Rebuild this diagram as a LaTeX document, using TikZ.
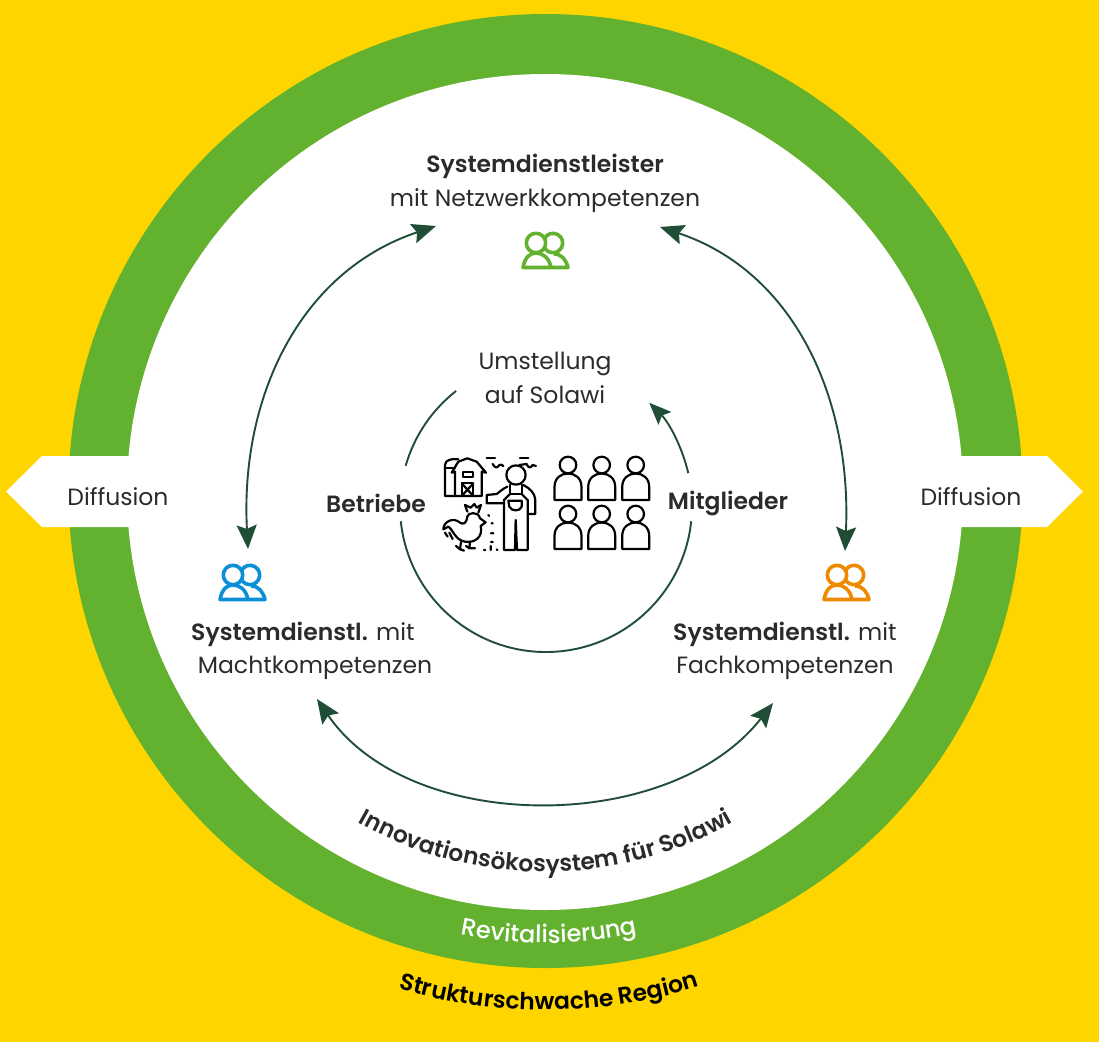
\documentclass[tikz,border=0pt]{standalone}
\usepackage{fontspec}
\setmainfont{Poppins}[BoldFont={Poppins SemiBold}]
\newfontfamily\medfont{Poppins Medium}
\usetikzlibrary{arrows.meta,calc,decorations.text}
\definecolor{bgyellow}{HTML}{FFD500}
\definecolor{ringgreen}{HTML}{62B22F}
\definecolor{arrowgreen}{HTML}{1F4D36}
\definecolor{iconblue}{HTML}{0B8FD6}
\definecolor{iconorange}{HTML}{EF8A00}
\definecolor{txt}{HTML}{2B2B2B}
\tikzset{
  lbl/.style={font=\fontsize{23.5}{27}\selectfont,text=txt,inner sep=0pt,align=center},
  conn/.style={draw=arrowgreen,line width=1.9pt},
  twoway/.style={conn,{Stealth[length=24pt,width=20pt,inset=4pt]}-{Stealth[length=24pt,width=20pt,inset=4pt]}},
  ink/.style={draw=black,line width=2.2pt,line join=round,line cap=round},
  pics/people/.style={code={
    \begin{scope}[draw=#1,line width=3.6pt,line join=round]
      \draw (-9,-6) circle[radius=9.7];
      \draw ($(8,-6)+(151:9.7pt)$) arc[start angle=151,end angle=-151,radius=9.7pt];
      \draw (-22,18.5) .. controls (-20,8) and (-15,4) .. (-9,4) .. controls (-3,4) and (4,8) .. (6,18.5) -- cycle;
      \draw (9,5) .. controls (17,5) and (21,11) .. (23,18.5) -- (6,18.5);
    \end{scope}}},
  pics/person/.style={code={
    \draw[ink] (0,0) circle[radius=8.3];
    \draw[ink] (-13.5,35) -- (-13.5,22) .. controls (-13.5,13) and (-7,8.5) .. (0,8.5) .. controls (7,8.5) and (13.5,13) .. (13.5,22) -- (13.5,35) -- cycle;
  }}
}
\begin{document}
\begin{tikzpicture}[x=1pt,y=-1pt]
\useasboundingbox (0,0) rectangle (1099,1042);
\fill[bgyellow] (0,0) rectangle (1099,1042);
\coordinate (c) at (545.5,491);
\coordinate (ci) at (546,506);
\fill[ringgreen] (c) circle[radius=477pt];
\fill[white] (545,492) circle[radius=418pt];
% diffusion arrows
\fill[white] (140,456) -- (42,456) -- (6,491.5) -- (42,527) -- (140,527) -- cycle;
\fill[white] (950,456) -- (1047,456) -- (1083,491.5) -- (1047,527) -- (950,527) -- cycle;
\node[lbl] (dl) at (118,497) {Diffusion};
\node[lbl] (dr) at (971,497) {Diffusion};
% labels
\node[lbl] (top1) at (545,166) {\textbf{Systemdienstleister}};
\node[lbl] (top2) at (545,200.5) {mit Netzwerkkompetenzen};
\node[lbl] (um1) at (545,364) {Umstellung};
\node[lbl] (um2) at (545,395) {auf Solawi};
\node[lbl] (be) at (376,503) {\textbf{Betriebe}};
\node[lbl] (mi) at (728,503) {\textbf{Mitglieder}};
\node[lbl] (l1) at (303,634) {\textbf{Systemdienstl.} mit};
\node[lbl] (l2) at (315,668) {Machtkompetenzen};
\node[lbl] (r1) at (785,634) {\textbf{Systemdienstl.} mit};
\node[lbl] (r2) at (785,668) {Fachkompetenzen};
% outer connectors
\coordinate (tl) at (436,226);
\coordinate (tr) at (660,227);
\coordinate (lu) at (248,549);
\coordinate (ru) at (845,551);
\coordinate (bl) at (317,699);
\coordinate (br) at (773,703);
\draw[twoway] (tl) .. controls (298,272) and (240,400) .. (lu);
\draw[twoway] (tr) .. controls (795,272) and (852,400) .. (ru);
\draw[twoway] (bl) .. controls (410,835) and (670,835) .. (br);
% inner circle
\draw[conn] ($(ci)+(128:146pt)$) arc[start angle=128,end angle=164,radius=146pt];
\draw[conn] ($(ci)+(186:146pt)$) arc[start angle=186,end angle=354,radius=146pt];
\draw[conn,-{Stealth[length=22pt,width=18pt,inset=4pt]}] ($(ci)+(13:146pt)$) arc[start angle=13,end angle=45,radius=146pt];
% icons
\pic at (545,249) {people=ringgreen};
\pic at (242,581) {people=iconblue};
\pic at (846,581) {people=iconorange};
% persons
\foreach \px in {568,601.7,635.7}{\foreach \py in {465,514}{\pic at (\px,\py) {person};}}
% farm icon (in crop coordinates)
\begin{scope}[shift={(380,340)},x=0.3333pt,y=-0.3333pt]
  % silo and barn
  \draw[ink] (225,468) -- (195,468) -- (195,375) .. controls (195,360) and (215,355) .. (235,358);
  \draw[ink] (195,385) -- (225,385);
  \draw[ink] (225,468) -- (225,395) -- (215,398) -- (235,365) -- (262,355) -- (290,365) -- (318,398) -- (305,395) -- (305,468) -- cycle;
  \draw[ink] (248,395) rectangle (278,412);
  \draw[ink] (245,468) -- (245,430) -- (280,430) -- (280,468);
  \draw[ink] (245,430) -- (280,468) (280,430) -- (245,468);
  % birds
  \draw[ink] (320,354) -- (345,354) (420,354) -- (445,354);
  \draw[ink] (338,372) .. controls (345,385) and (352,385) .. (358,375) .. controls (362,372) and (366,375) .. (370,378);
  \draw[ink] (418,375) -- (440,372) .. controls (445,385) and (452,385) .. (458,375) -- (468,378);
  % farmer
  \draw[ink] (408,405) circle[radius=29];
  \draw[ink] (390,434) -- (390,462) -- (425,462) -- (425,434);
  \draw[ink] (372,480) -- (372,630) -- (405,630) -- (407,540) -- (411,630) -- (443,630) -- (443,480) -- (425,462) (390,462) -- (372,480);
  \draw[ink] (385,482) -- (425,482) -- (425,500) .. controls (420,515) and (395,515) .. (388,500) -- cycle;
  \draw[ink] (382,440) .. controls (370,445) and (360,455) .. (350,462) -- (320,465) -- (320,490) -- (372,490);
  \draw[ink] (430,435) .. controls (450,445) and (465,460) .. (466,480) -- (466,522) -- (443,522);
  % rooster
  \draw[ink] (262,515) -- (255,495) -- (272,503) -- (283,492) -- (290,503) -- (303,495) -- (295,518);
  \draw[ink] (262,530) .. controls (262,518) and (295,512) .. (300,535) -- (317,547) -- (302,558) .. controls (310,590) and (285,610) .. (255,605) .. controls (225,600) and (220,570) .. (205,560) -- (190,568) .. controls (190,545) and (220,530) .. (240,548) .. controls (250,555) and (260,550) .. (262,530);
  \draw[ink] (195,578) -- (203,590) (208,578) -- (218,597);
  \draw[ink] (243,606) -- (240,628) -- (228,618) (240,628) -- (252,632) (270,605) -- (268,625) -- (285,625) (268,625) -- (258,618);
  % seeds
  \draw[ink] (325,525) -- (327,528) (335,550) -- (338,550) (333,580) -- (340,580) (333,606) -- (338,606) (312,630) -- (316,630) (332,618) -- (332,630) (350,628) -- (352,630);
\end{scope}
% curved labels
\path[decorate,decoration={text along path,text align={center},text format delimiters={|}{|},
  text={|\fontsize{23.3}{27}\selectfont\bfseries\color{txt}|Innovationsökosystem für Solawi}}]
  ($(c)+(215:381pt)$) arc[start angle=215,end angle=325,radius=381pt];
\path[decorate,decoration={text along path,text align={center},text format delimiters={|}{|},
  text={|\medfont\fontsize{24}{28}\selectfont\color{white}|Revitalisierung}}]
  ($(c)+(225.45:452pt)$) arc[start angle=225.45,end angle=315.45,radius=452pt];
\path[decorate,decoration={text along path,text align={center},text format delimiters={|}{|},
  text={|\fontsize{23.4}{27}\selectfont\bfseries\color{black}|Strukturschwache Region}}]
  ($(c)+(235.4:519pt)$) arc[start angle=235.4,end angle=305.4,radius=519pt];
\end{tikzpicture}
\end{document}
